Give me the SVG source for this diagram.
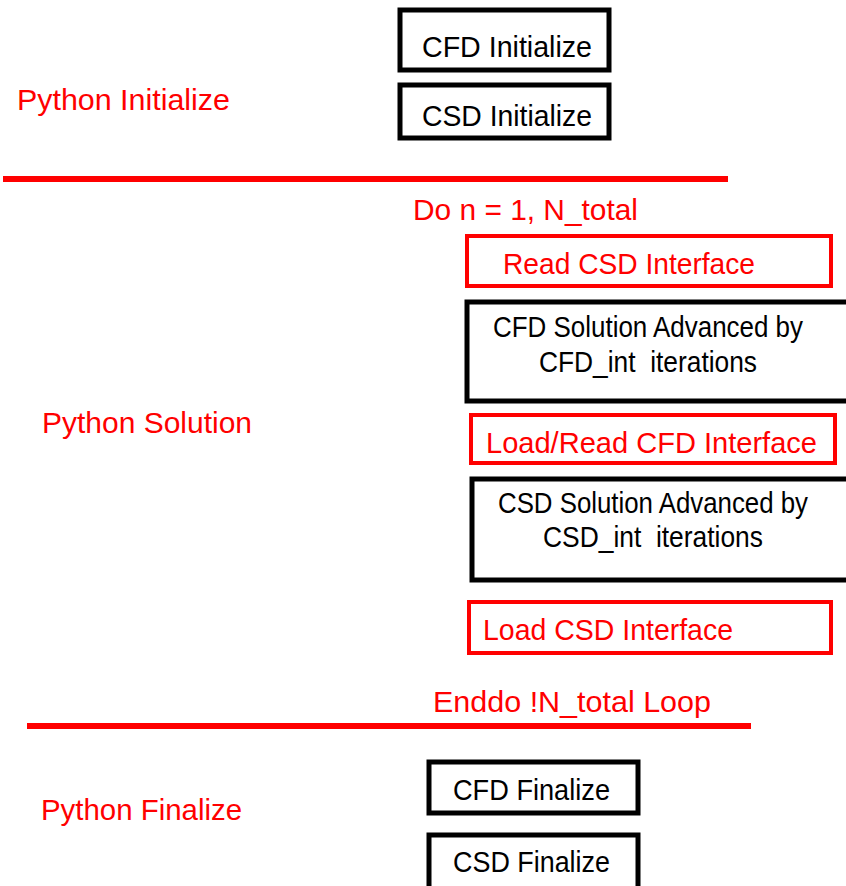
<svg xmlns="http://www.w3.org/2000/svg" width="846" height="886" viewBox="0 0 846 886">
<style>
.t{font-family:"Liberation Sans",Arial,sans-serif;font-size:29px;white-space:pre}
.r{fill:#ff0000}
.k{fill:#000000}
.bk{fill:#ffffff;stroke:#000000;stroke-width:5}
.br{fill:#ffffff;stroke:#ff0000;stroke-width:4}
.ln{stroke:#ff0000;stroke-width:6;fill:none}
</style>
<rect width="846" height="886" fill="#ffffff"/>
<g id="connectors">
<line class="ln" x1="3" y1="179" x2="728" y2="179"/>
<line class="ln" x1="27" y1="726" x2="751" y2="726"/>
</g>
<g id="python-initialize"><text class="t r" x="17" y="110" textLength="213" lengthAdjust="spacingAndGlyphs">Python Initialize</text></g>
<g id="cfd-initialize"><rect class="bk" x="400" y="10" width="209" height="60"/><text class="t k" x="422" y="57" textLength="170" lengthAdjust="spacingAndGlyphs">CFD Initialize</text></g>
<g id="csd-initialize"><rect class="bk" x="400" y="85" width="209" height="53"/><text class="t k" x="422" y="126" textLength="170" lengthAdjust="spacingAndGlyphs">CSD Initialize</text></g>
<g id="do-loop"><text class="t r" x="413" y="220" textLength="225" lengthAdjust="spacingAndGlyphs">Do n = 1, N_total</text></g>
<g id="read-csd"><rect class="br" x="467" y="236" width="364" height="50"/><text class="t r" x="503" y="274" textLength="252" lengthAdjust="spacingAndGlyphs">Read CSD Interface</text></g>
<g id="cfd-solution"><rect class="bk" x="467" y="302" width="400" height="99"/><text class="t k" x="493" y="337" textLength="310" lengthAdjust="spacingAndGlyphs">CFD Solution Advanced by</text><text class="t k" x="539" y="372" textLength="218" lengthAdjust="spacingAndGlyphs">CFD_int  iterations</text></g>
<g id="python-solution"><text class="t r" x="42" y="433" textLength="210" lengthAdjust="spacingAndGlyphs">Python Solution</text></g>
<g id="load-read-cfd"><rect class="br" x="471" y="415" width="364" height="48"/><text class="t r" x="486" y="453" textLength="331" lengthAdjust="spacingAndGlyphs">Load/Read CFD Interface</text></g>
<g id="csd-solution"><rect class="bk" x="472" y="479" width="400" height="101"/><text class="t k" x="498" y="513" textLength="310" lengthAdjust="spacingAndGlyphs">CSD Solution Advanced by</text><text class="t k" x="543" y="547" textLength="220" lengthAdjust="spacingAndGlyphs">CSD_int  iterations</text></g>
<g id="load-csd"><rect class="br" x="469" y="602" width="362" height="51"/><text class="t r" x="483" y="640" textLength="250" lengthAdjust="spacingAndGlyphs">Load CSD Interface</text></g>
<g id="enddo"><text class="t r" x="433" y="712" textLength="278" lengthAdjust="spacingAndGlyphs">Enddo !N_total Loop</text></g>
<g id="python-finalize"><text class="t r" x="41" y="820" textLength="201" lengthAdjust="spacingAndGlyphs">Python Finalize</text></g>
<g id="cfd-finalize"><rect class="bk" x="429" y="762" width="209" height="51"/><text class="t k" x="453" y="800" textLength="157" lengthAdjust="spacingAndGlyphs">CFD Finalize</text></g>
<g id="csd-finalize"><rect class="bk" x="429" y="835" width="209" height="80"/><text class="t k" x="453" y="872" textLength="157" lengthAdjust="spacingAndGlyphs">CSD Finalize</text></g>
</svg>
